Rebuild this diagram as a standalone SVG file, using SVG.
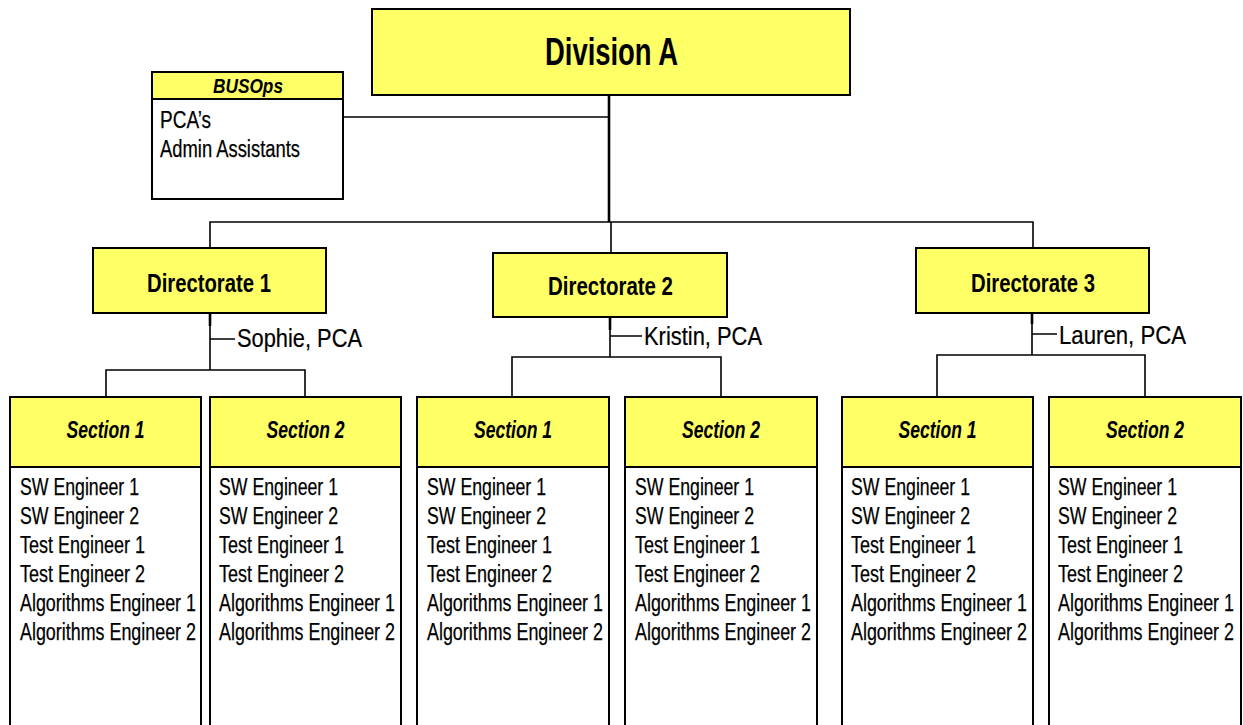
<svg xmlns="http://www.w3.org/2000/svg" width="1243" height="725" viewBox="0 0 1243 725">
<style>
.box{fill:#FFFF66;stroke:#000;stroke-width:2}
.wbox{fill:#fff;stroke:#000;stroke-width:2}
.ln{fill:none;stroke:#000;stroke-width:1.6}
.tk{fill:none;stroke:#000;stroke-width:2.6}
text{font-family:"Liberation Sans",Arial,sans-serif;fill:#000}
.div{font-size:38px;font-weight:bold;text-anchor:middle}
.dir{font-size:26px;font-weight:bold;text-anchor:middle}
.sec{font-size:23px;font-weight:bold;font-style:italic;text-anchor:middle}
.hd{font-size:20px;font-weight:bold;font-style:italic;text-anchor:middle}
.bd{font-size:23px;stroke:#000;stroke-width:0.25}
.pca{font-size:25px;stroke:#000;stroke-width:0.2}
</style>
<rect width="1243" height="725" fill="#fff"/>
<g id="connectors">
<path class="tk" d="M609 95 V222"/>
<path class="ln" d="M343 117 H609"/>
<path class="ln" d="M210 248 V222 H1033 V248 M611 222 V253"/>
<path class="tk" d="M210 313 V326"/>
<path class="ln" d="M210 313 V370 M210 339 H235 M106 397 V370 H305 V397"/>
<path class="tk" d="M610 317 V330"/>
<path class="ln" d="M610 317 V357 M610 336 H642 M512 397 V357 H721 V397"/>
<path class="tk" d="M1032 313 V324"/>
<path class="ln" d="M1032 313 V355 M1032 334 H1057 M937 397 V355 H1145 V397"/>
</g>
<g id="division-a">
<rect class="box" x="372" y="9" width="478" height="86"/>
<text class="div" x="611.5" y="65" textLength="133" lengthAdjust="spacingAndGlyphs">Division A</text>
</g>
<g id="busops">
<rect class="wbox" x="152" y="72" width="191" height="127"/>
<rect class="box" x="152" y="72" width="191" height="27"/>
<text class="hd" x="248" y="93" textLength="70" lengthAdjust="spacingAndGlyphs">BUSOps</text>
<text class="bd" x="160" y="128" textLength="51" lengthAdjust="spacingAndGlyphs">PCA’s</text>
<text class="bd" x="160" y="157" textLength="140" lengthAdjust="spacingAndGlyphs">Admin Assistants</text>
</g>
<g id="directorate-1">
<rect class="box" x="93" y="248" width="233" height="65"/>
<text class="dir" x="209" y="292" textLength="124" lengthAdjust="spacingAndGlyphs">Directorate 1</text>
</g>
<g id="directorate-2">
<rect class="box" x="493" y="253" width="234" height="64"/>
<text class="dir" x="610.5" y="295" textLength="125" lengthAdjust="spacingAndGlyphs">Directorate 2</text>
</g>
<g id="directorate-3">
<rect class="box" x="916" y="248" width="233" height="65"/>
<text class="dir" x="1033" y="292" textLength="124" lengthAdjust="spacingAndGlyphs">Directorate 3</text>
</g>
<g id="pca-1"><text class="pca" x="237" y="347" textLength="125" lengthAdjust="spacingAndGlyphs">Sophie, PCA</text></g>
<g id="pca-2"><text class="pca" x="644" y="345" textLength="118" lengthAdjust="spacingAndGlyphs">Kristin, PCA</text></g>
<g id="pca-3"><text class="pca" x="1059" y="344" textLength="127" lengthAdjust="spacingAndGlyphs">Lauren, PCA</text></g>

<g id="d1-section-1">
<rect class="wbox" x="10" y="397" width="191" height="345"/>
<rect class="box" x="10" y="397" width="191" height="70"/>
<text class="sec" x="105.5" y="438" textLength="78" lengthAdjust="spacingAndGlyphs">Section 1</text>
<text class="bd" x="20" y="495" textLength="119" lengthAdjust="spacingAndGlyphs">SW Engineer 1</text>
<text class="bd" x="20" y="524" textLength="119" lengthAdjust="spacingAndGlyphs">SW Engineer 2</text>
<text class="bd" x="20" y="553" textLength="125" lengthAdjust="spacingAndGlyphs">Test Engineer 1</text>
<text class="bd" x="20" y="582" textLength="125" lengthAdjust="spacingAndGlyphs">Test Engineer 2</text>
<text class="bd" x="20" y="611" textLength="176" lengthAdjust="spacingAndGlyphs">Algorithms Engineer 1</text>
<text class="bd" x="20" y="640" textLength="176" lengthAdjust="spacingAndGlyphs">Algorithms Engineer 2</text>
</g>
<g id="d1-section-2">
<rect class="wbox" x="210" y="397" width="191" height="345"/>
<rect class="box" x="210" y="397" width="191" height="70"/>
<text class="sec" x="305.5" y="438" textLength="78" lengthAdjust="spacingAndGlyphs">Section 2</text>
<text class="bd" x="219" y="495" textLength="119" lengthAdjust="spacingAndGlyphs">SW Engineer 1</text>
<text class="bd" x="219" y="524" textLength="119" lengthAdjust="spacingAndGlyphs">SW Engineer 2</text>
<text class="bd" x="219" y="553" textLength="125" lengthAdjust="spacingAndGlyphs">Test Engineer 1</text>
<text class="bd" x="219" y="582" textLength="125" lengthAdjust="spacingAndGlyphs">Test Engineer 2</text>
<text class="bd" x="219" y="611" textLength="176" lengthAdjust="spacingAndGlyphs">Algorithms Engineer 1</text>
<text class="bd" x="219" y="640" textLength="176" lengthAdjust="spacingAndGlyphs">Algorithms Engineer 2</text>
</g>
<g id="d2-section-1">
<rect class="wbox" x="417" y="397" width="192" height="345"/>
<rect class="box" x="417" y="397" width="192" height="70"/>
<text class="sec" x="513" y="438" textLength="78" lengthAdjust="spacingAndGlyphs">Section 1</text>
<text class="bd" x="427" y="495" textLength="119" lengthAdjust="spacingAndGlyphs">SW Engineer 1</text>
<text class="bd" x="427" y="524" textLength="119" lengthAdjust="spacingAndGlyphs">SW Engineer 2</text>
<text class="bd" x="427" y="553" textLength="125" lengthAdjust="spacingAndGlyphs">Test Engineer 1</text>
<text class="bd" x="427" y="582" textLength="125" lengthAdjust="spacingAndGlyphs">Test Engineer 2</text>
<text class="bd" x="427" y="611" textLength="176" lengthAdjust="spacingAndGlyphs">Algorithms Engineer 1</text>
<text class="bd" x="427" y="640" textLength="176" lengthAdjust="spacingAndGlyphs">Algorithms Engineer 2</text>
</g>
<g id="d2-section-2">
<rect class="wbox" x="625" y="397" width="192" height="345"/>
<rect class="box" x="625" y="397" width="192" height="70"/>
<text class="sec" x="721" y="438" textLength="78" lengthAdjust="spacingAndGlyphs">Section 2</text>
<text class="bd" x="635" y="495" textLength="119" lengthAdjust="spacingAndGlyphs">SW Engineer 1</text>
<text class="bd" x="635" y="524" textLength="119" lengthAdjust="spacingAndGlyphs">SW Engineer 2</text>
<text class="bd" x="635" y="553" textLength="125" lengthAdjust="spacingAndGlyphs">Test Engineer 1</text>
<text class="bd" x="635" y="582" textLength="125" lengthAdjust="spacingAndGlyphs">Test Engineer 2</text>
<text class="bd" x="635" y="611" textLength="176" lengthAdjust="spacingAndGlyphs">Algorithms Engineer 1</text>
<text class="bd" x="635" y="640" textLength="176" lengthAdjust="spacingAndGlyphs">Algorithms Engineer 2</text>
</g>
<g id="d3-section-1">
<rect class="wbox" x="842" y="397" width="191" height="345"/>
<rect class="box" x="842" y="397" width="191" height="70"/>
<text class="sec" x="937.5" y="438" textLength="78" lengthAdjust="spacingAndGlyphs">Section 1</text>
<text class="bd" x="851" y="495" textLength="119" lengthAdjust="spacingAndGlyphs">SW Engineer 1</text>
<text class="bd" x="851" y="524" textLength="119" lengthAdjust="spacingAndGlyphs">SW Engineer 2</text>
<text class="bd" x="851" y="553" textLength="125" lengthAdjust="spacingAndGlyphs">Test Engineer 1</text>
<text class="bd" x="851" y="582" textLength="125" lengthAdjust="spacingAndGlyphs">Test Engineer 2</text>
<text class="bd" x="851" y="611" textLength="176" lengthAdjust="spacingAndGlyphs">Algorithms Engineer 1</text>
<text class="bd" x="851" y="640" textLength="176" lengthAdjust="spacingAndGlyphs">Algorithms Engineer 2</text>
</g>
<g id="d3-section-2">
<rect class="wbox" x="1049" y="397" width="192" height="345"/>
<rect class="box" x="1049" y="397" width="192" height="70"/>
<text class="sec" x="1145" y="438" textLength="78" lengthAdjust="spacingAndGlyphs">Section 2</text>
<text class="bd" x="1058" y="495" textLength="119" lengthAdjust="spacingAndGlyphs">SW Engineer 1</text>
<text class="bd" x="1058" y="524" textLength="119" lengthAdjust="spacingAndGlyphs">SW Engineer 2</text>
<text class="bd" x="1058" y="553" textLength="125" lengthAdjust="spacingAndGlyphs">Test Engineer 1</text>
<text class="bd" x="1058" y="582" textLength="125" lengthAdjust="spacingAndGlyphs">Test Engineer 2</text>
<text class="bd" x="1058" y="611" textLength="176" lengthAdjust="spacingAndGlyphs">Algorithms Engineer 1</text>
<text class="bd" x="1058" y="640" textLength="176" lengthAdjust="spacingAndGlyphs">Algorithms Engineer 2</text>
</g>
</svg>
